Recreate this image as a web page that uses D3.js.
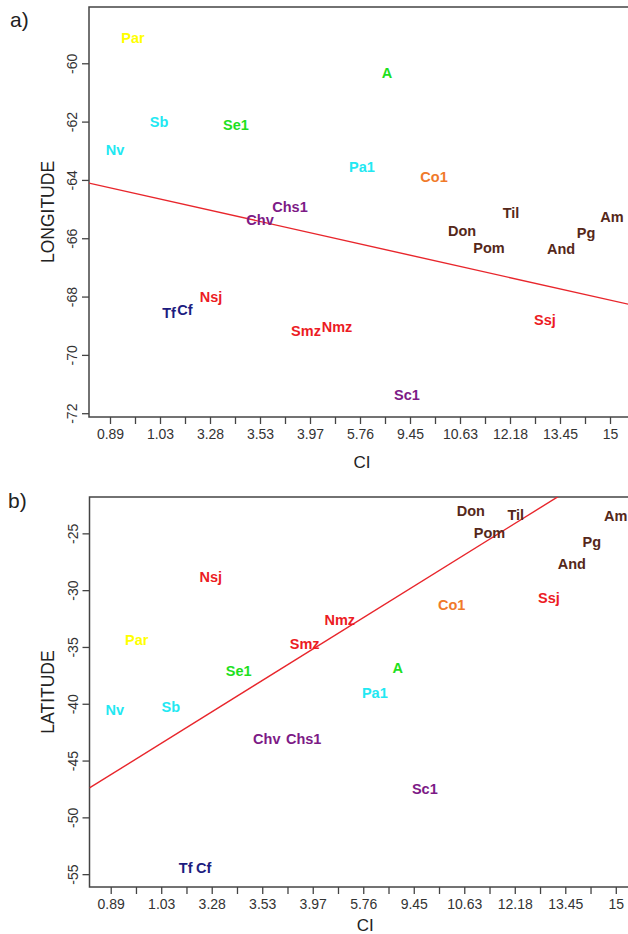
<!DOCTYPE html>
<html lang="en">
<head>
  <meta charset="utf-8">
  <title>CI vs longitude / latitude</title>
  <style>
  html, body {padding: 0; margin: 0; overflow: hidden; background: #fff}
  text {font-family: "Liberation Sans", Arial, sans-serif}
</style>
</head>
<body>
  <svg width="628" height="934"></svg>
  <script src="https://cdnjs.cloudflare.com/ajax/libs/d3/7.8.5/d3.min.js"></script>
  <script>

  // site labels and their colour group
  var sites = ["Par","Sb","Se1","Nv","Chs1","Chv","A","Pa1","Co1","Til","Am","Don","Pom","Pg","And","Ssj","Nmz","Smz","Nsj","Tf","Cf","Sc1"];
  var groups = ["yel","cya","grn","cya","pur","pur","grn","cya","ora","brn","brn","brn","brn","brn","brn","red","red","red","red","nav","nav","pur"];

  // CI axis: 21 ordered positions, labels on every second one
  var ciTicks = d3.range(0, 21);
  var ciLabels = ["0.89","1.03","3.28","3.53","3.97","5.76","9.45","10.63","12.18","13.45","15"];

  // panel a) CI position vs longitude
  var lonX = [0.92,1.96,5.04,0.2,7.2,6.0,11.08,10.08,12.96,16.04,20.08,14.08,15.16,19.04,18.04,17.4,9.08,7.84,4.04,2.36,3.0,11.88];
  var lonY = [-59.13,-62.02,-62.12,-62.98,-64.93,-65.38,-60.33,-63.55,-63.9,-65.13,-65.27,-65.75,-66.34,-65.82,-66.37,-68.8,-69.04,-69.18,-68.02,-68.56,-68.46,-71.38];
  var lonTicks = [-60,-62,-64,-66,-68,-70,-72];
  var lonFit = [-64.27, -0.1925]; // intercept, slope

  // panel b) CI position vs latitude
  var latX = [1.03,2.38,5.07,0.16,7.64,6.18,11.37,10.46,13.5,16.04,20.0,14.26,15.0,19.05,18.26,17.35,9.07,7.68,3.96,2.97,3.68,12.44];
  var latY = [-34.4,-40.3,-37.1,-40.5,-43.12,-43.12,-36.86,-39.05,-31.3,-23.39,-23.48,-23.04,-24.97,-25.77,-27.7,-30.7,-32.63,-34.75,-28.85,-54.4,-54.4,-47.45];
  var latTicks = [-25,-30,-35,-40,-45,-50,-55];
  var latFit = [-46.25, 1.382];

  var color = d3.scaleOrdinal()
    .domain(["yel","cya","grn","pur","ora","brn","red","nav"])
    .range(["#ffff00","#22e8f2","#1ee01e","#7d1a86","#f07a2a","#55281a","#ec1c24","#1c1c80"]);

  var svg = d3.select("svg");

  function panel(opt) {
    var x = d3.scaleLinear().domain([-0.84, 20.84]).range([opt.left, opt.right]);
    var y = d3.scaleLinear().domain(opt.ydom).range([opt.bottom, opt.top]);
    var g = svg.append("g");

    g.append("clipPath").attr("id", opt.id)
      .append("rect")
      .attr("x", opt.left).attr("y", opt.top)
      .attr("width", opt.right - opt.left).attr("height", opt.bottom - opt.top);

    // box
    g.append("rect")
      .attr("x", opt.left).attr("y", opt.top)
      .attr("width", opt.right - opt.left).attr("height", opt.bottom - opt.top)
      .attr("fill", "none").attr("stroke", "#444").attr("stroke-width", 1.5);

    // x axis
    var xa = g.append("g").attr("transform", "translate(0," + opt.bottom + ")")
      .call(d3.axisBottom(x).tickValues(ciTicks).tickSize(7).tickPadding(5)
        .tickFormat(function(d) { return d % 2 === 0 ? ciLabels[d / 2] : ""; }));
    xa.select(".domain").remove();
    xa.selectAll("line").attr("stroke", "#444").attr("stroke-width", 1.3);
    xa.selectAll("text").attr("font-size", 14).attr("fill", "#333")
      .style("font-family", "'Liberation Sans', Arial, sans-serif");

    // y axis, rotated labels like R, plain hyphen minus
    var ya = g.append("g").attr("transform", "translate(" + opt.left + ",0)")
      .call(d3.axisLeft(y).tickValues(opt.yticks).tickSize(7)
        .tickFormat(function(d) { return String(d); }));
    ya.select(".domain").remove();
    ya.selectAll("line").attr("stroke", "#444").attr("stroke-width", 1.3);
    ya.selectAll("text")
      .attr("font-size", 14).attr("fill", "#333")
      .attr("x", null).attr("dy", null)
      .attr("text-anchor", "middle")
      .attr("transform", "translate(-12,0) rotate(-90)")
      .style("font-family", "'Liberation Sans', Arial, sans-serif");

    // axis titles
    g.append("text")
      .attr("x", (opt.left + opt.right) / 2 + 2).attr("y", opt.bottom + opt.ciDy)
      .attr("text-anchor", "middle").attr("font-size", 17).attr("fill", "#222")
      .text("CI");
    g.append("text")
      .attr("transform", "translate(48," + ((opt.top + opt.bottom) / 2) + ") rotate(-90)")
      .attr("text-anchor", "middle").attr("dy", "0.35em")
      .attr("font-size", 17.5).attr("fill", "#222")
      .text(opt.ytitle);

    g.append("text")
      .attr("x", opt.tagX).attr("y", opt.tagY)
      .attr("font-size", 21).attr("fill", "#222")
      .text(opt.tag);

    // fitted line
    var x0 = x.domain()[0], x1 = x.domain()[1];
    g.append("line")
      .attr("clip-path", "url(#" + opt.id + ")")
      .attr("x1", x(x0)).attr("y1", y(opt.fit[0] + opt.fit[1] * x0))
      .attr("x2", x(x1)).attr("y2", y(opt.fit[0] + opt.fit[1] * x1))
      .attr("stroke", "#e8262c").attr("stroke-width", 1.4);

    // site labels
    g.selectAll(".site")
      .data(sites)
      .enter().append("text")
      .attr("class", "site")
      .attr("x", function(d, i) { return x(opt.xs[i]); })
      .attr("y", function(d, i) { return y(opt.ys[i]); })
      .attr("dy", "0.36em")
      .attr("text-anchor", "middle")
      .attr("font-size", 14.5).attr("font-weight", "bold")
      .attr("fill", function(d, i) { return color(groups[i]); })
      .text(function(d) { return d; });
  }

  panel({id: "clipA", left: 89, right: 631, top: 7, bottom: 417,
    ydom: [-72.13, -58.07], yticks: lonTicks, xs: lonX, ys: lonY, fit: lonFit,
    ytitle: "LONGITUDE", tag: "a)", tagX: 10, tagY: 27, ciDy: 51});

  panel({id: "clipB", left: 89.5, right: 637, top: 497, bottom: 887,
    ydom: [-56.13, -21.8], yticks: latTicks, xs: latX, ys: latY, fit: latFit,
    ytitle: "LATITUDE", tag: "b)", tagX: 8, tagY: 508, ciDy: 44});

  </script>
</body>
</html>
